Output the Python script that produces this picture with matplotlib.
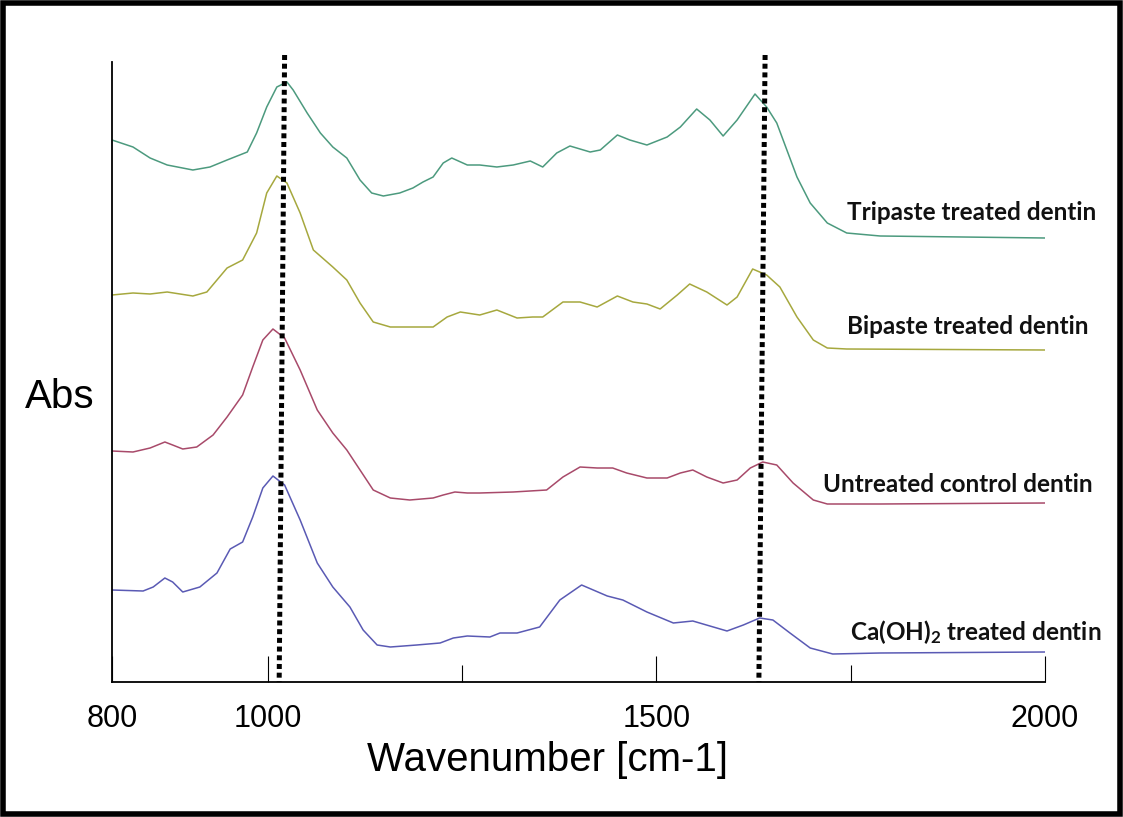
"""FTIR spectra of treated dentin, stacked, with two marker lines."""

import matplotlib

matplotlib.use("Agg")
import matplotlib.pyplot as plt
from matplotlib.patches import Rectangle

plt.rcParams["font.family"] = ["Liberation Sans", "DejaVu Sans"]
plt.rcParams["mathtext.default"] = "regular"

# ---------------------------------------------------------------------------
# Data (absorbance in arbitrary units above each baseline)
# ---------------------------------------------------------------------------
tri_wn = [800, 827, 849, 871, 904, 926, 948, 974, 986, 999, 1012, 1025, 1033,
          1051, 1068, 1084, 1102, 1119, 1134, 1149, 1170, 1187, 1200, 1213,
          1226, 1237, 1257, 1273, 1295, 1316, 1338, 1354, 1372, 1389, 1415,
          1428, 1450, 1466, 1488, 1514, 1531, 1552, 1569, 1586, 1604, 1627,
          1642, 1655, 1668, 1681, 1698, 1720, 1745, 1788, 2000]
tri_abs = [0.98, 0.91, 0.80, 0.73, 0.68, 0.71, 0.78, 0.86, 1.05, 1.31, 1.51,
           1.56, 1.48, 1.25, 1.05, 0.91, 0.80, 0.58, 0.45, 0.42, 0.45, 0.50,
           0.56, 0.61, 0.75, 0.80, 0.73, 0.73, 0.71, 0.73, 0.77, 0.71, 0.85,
           0.92, 0.86, 0.88, 1.03, 0.98, 0.93, 1.01, 1.11, 1.29, 1.18, 1.02,
           1.18, 1.44, 1.31, 1.15, 0.88, 0.61, 0.35, 0.15, 0.05, 0.02, 0.0]

bi_wn = [800, 827, 849, 871, 904, 922, 948, 968, 986, 999, 1012, 1025, 1042,
         1059, 1084, 1102, 1119, 1136, 1158, 1213, 1231, 1248, 1273, 1295,
         1321, 1341, 1354, 1380, 1402, 1424, 1450, 1470, 1488, 1505, 1527,
         1543, 1565, 1591, 1604, 1624, 1642, 1659, 1681, 1702, 1720, 1745, 2000]
bi_abs = [0.55, 0.57, 0.56, 0.58, 0.54, 0.58, 0.82, 0.90, 1.17, 1.57, 1.74,
          1.67, 1.37, 1.00, 0.83, 0.70, 0.47, 0.28, 0.23, 0.23, 0.33, 0.38,
          0.35, 0.40, 0.32, 0.33, 0.33, 0.48, 0.48, 0.43, 0.54, 0.48, 0.46,
          0.41, 0.55, 0.66, 0.58, 0.45, 0.53, 0.81, 0.75, 0.63, 0.33, 0.10,
          0.02, 0.01, 0.0]

ctl_wn = [800, 827, 849, 868, 878, 891, 909, 930, 948, 968, 981, 994, 1007,
          1022, 1042, 1064, 1084, 1102, 1119, 1136, 1158, 1183, 1213, 1226,
          1241, 1257, 1273, 1316, 1359, 1380, 1402, 1424, 1444, 1462, 1488,
          1514, 1531, 1547, 1565, 1586, 1604, 1621, 1637, 1655, 1676, 1702,
          1720, 1788, 2000]
ctl_abs = [0.52, 0.51, 0.55, 0.61, 0.58, 0.54, 0.56, 0.68, 0.86, 1.08, 1.36,
           1.63, 1.74, 1.65, 1.33, 0.93, 0.70, 0.53, 0.33, 0.13, 0.05, 0.03,
           0.05, 0.08, 0.11, 0.10, 0.10, 0.11, 0.13, 0.26, 0.36, 0.35, 0.35,
           0.30, 0.25, 0.25, 0.30, 0.33, 0.26, 0.20, 0.23, 0.35, 0.41, 0.38,
           0.20, 0.03, -0.01, -0.01, 0.0]

caoh_wn = [800, 840, 853, 868, 878, 891, 913, 935, 952, 968, 981, 994, 1007,
           1022, 1042, 1064, 1084, 1106, 1123, 1141, 1158, 1192, 1222, 1239,
           1257, 1286, 1299, 1321, 1350, 1376, 1404, 1437, 1457, 1488, 1522,
           1547, 1569, 1591, 1612, 1633, 1650, 1672, 1698, 1727, 1788, 2000]
caoh_abs = [0.62, 0.61, 0.65, 0.74, 0.70, 0.60, 0.65, 0.79, 1.03, 1.10, 1.35,
            1.64, 1.76, 1.67, 1.32, 0.89, 0.65, 0.45, 0.22, 0.07, 0.05, 0.07,
            0.09, 0.14, 0.16, 0.15, 0.19, 0.19, 0.25, 0.52, 0.67, 0.56, 0.52,
            0.40, 0.29, 0.31, 0.26, 0.21, 0.27, 0.34, 0.32, 0.19, 0.04, -0.02,
            -0.01, 0.0]

labels = ["Tripaste treated dentin", "Bipaste treated dentin",
          "Untreated control dentin", "Ca(OH)$_2$ treated dentin"]
offsets = [4.44, 3.32, 1.79, 0.30]
colors = ["#4c9a7e", "#a6a83e", "#a84a6a", "#5a5ab4"]
label_x = [1745, 1745, 1714, 1749]
label_y = [4.69, 3.55, 1.97, 0.50]

# marker bands (wavenumber at top, at bottom of the plot)
band_top = [1022, 1640]
band_bottom = [1015, 1632]

series = [(tri_wn, tri_abs), (bi_wn, bi_abs), (ctl_wn, ctl_abs),
          (caoh_wn, caoh_abs)]

# ---------------------------------------------------------------------------
# Plot
# ---------------------------------------------------------------------------
W, H = 1123, 817
fig = plt.figure(figsize=(W / 100, H / 100), dpi=100)
ax = fig.add_axes([112 / W, 1 - 682 / H, 933 / W, 627 / H])

for (wn, ab), off, col in zip(series, offsets, colors):
    ax.plot(wn, [a + off for a in ab], color=col, linewidth=1.1)

for lab, x, y in zip(labels, label_x, label_y):
    ax.text(x, y, lab, fontsize=17.5, fontweight="bold", family=["Lato", "DejaVu Sans"],
            ha="left", va="center", color="#111111")

for xt, xb in zip(band_top, band_bottom):
    ax.plot([xt, xb], [6.27, 0], color="black", linewidth=3.6,
            linestyle=(0, (1, 0.74)), dash_capstyle="butt", clip_on=False)

ax.set_xlim(800, 2000)
ax.set_ylim(0, 6.27)
ax.spines["top"].set_visible(False)
ax.spines["right"].set_visible(False)
ax.spines["left"].set_bounds(0, 6.2)
ax.spines["left"].set_linewidth(1.3)
ax.spines["bottom"].set_linewidth(1.3)

ax.set_yticks([])
ax.set_xticks([800, 1000, 1500, 2000])
ax.set_xticks([1250, 1750], minor=True)
ax.tick_params(axis="x", which="major", direction="in", length=19, width=0.8,
               labelsize=22, pad=16)
ax.tick_params(axis="x", which="minor", direction="in", length=12, width=0.8)

ax.set_xlabel("Wavenumber [cm-1]", fontsize=29, va="center")
ax.xaxis.set_label_coords(0.467, -0.124)
ax.set_ylabel("Abs", fontsize=29, rotation=0, ha="center", va="center")
ax.yaxis.set_label_coords(-0.0557, 0.4545)

fig.patches.append(Rectangle((0.003, 0.004), 0.994, 0.992, transform=fig.transFigure,
                             fill=False, edgecolor="black", linewidth=4.0))

fig.savefig("out.png", dpi=100)
